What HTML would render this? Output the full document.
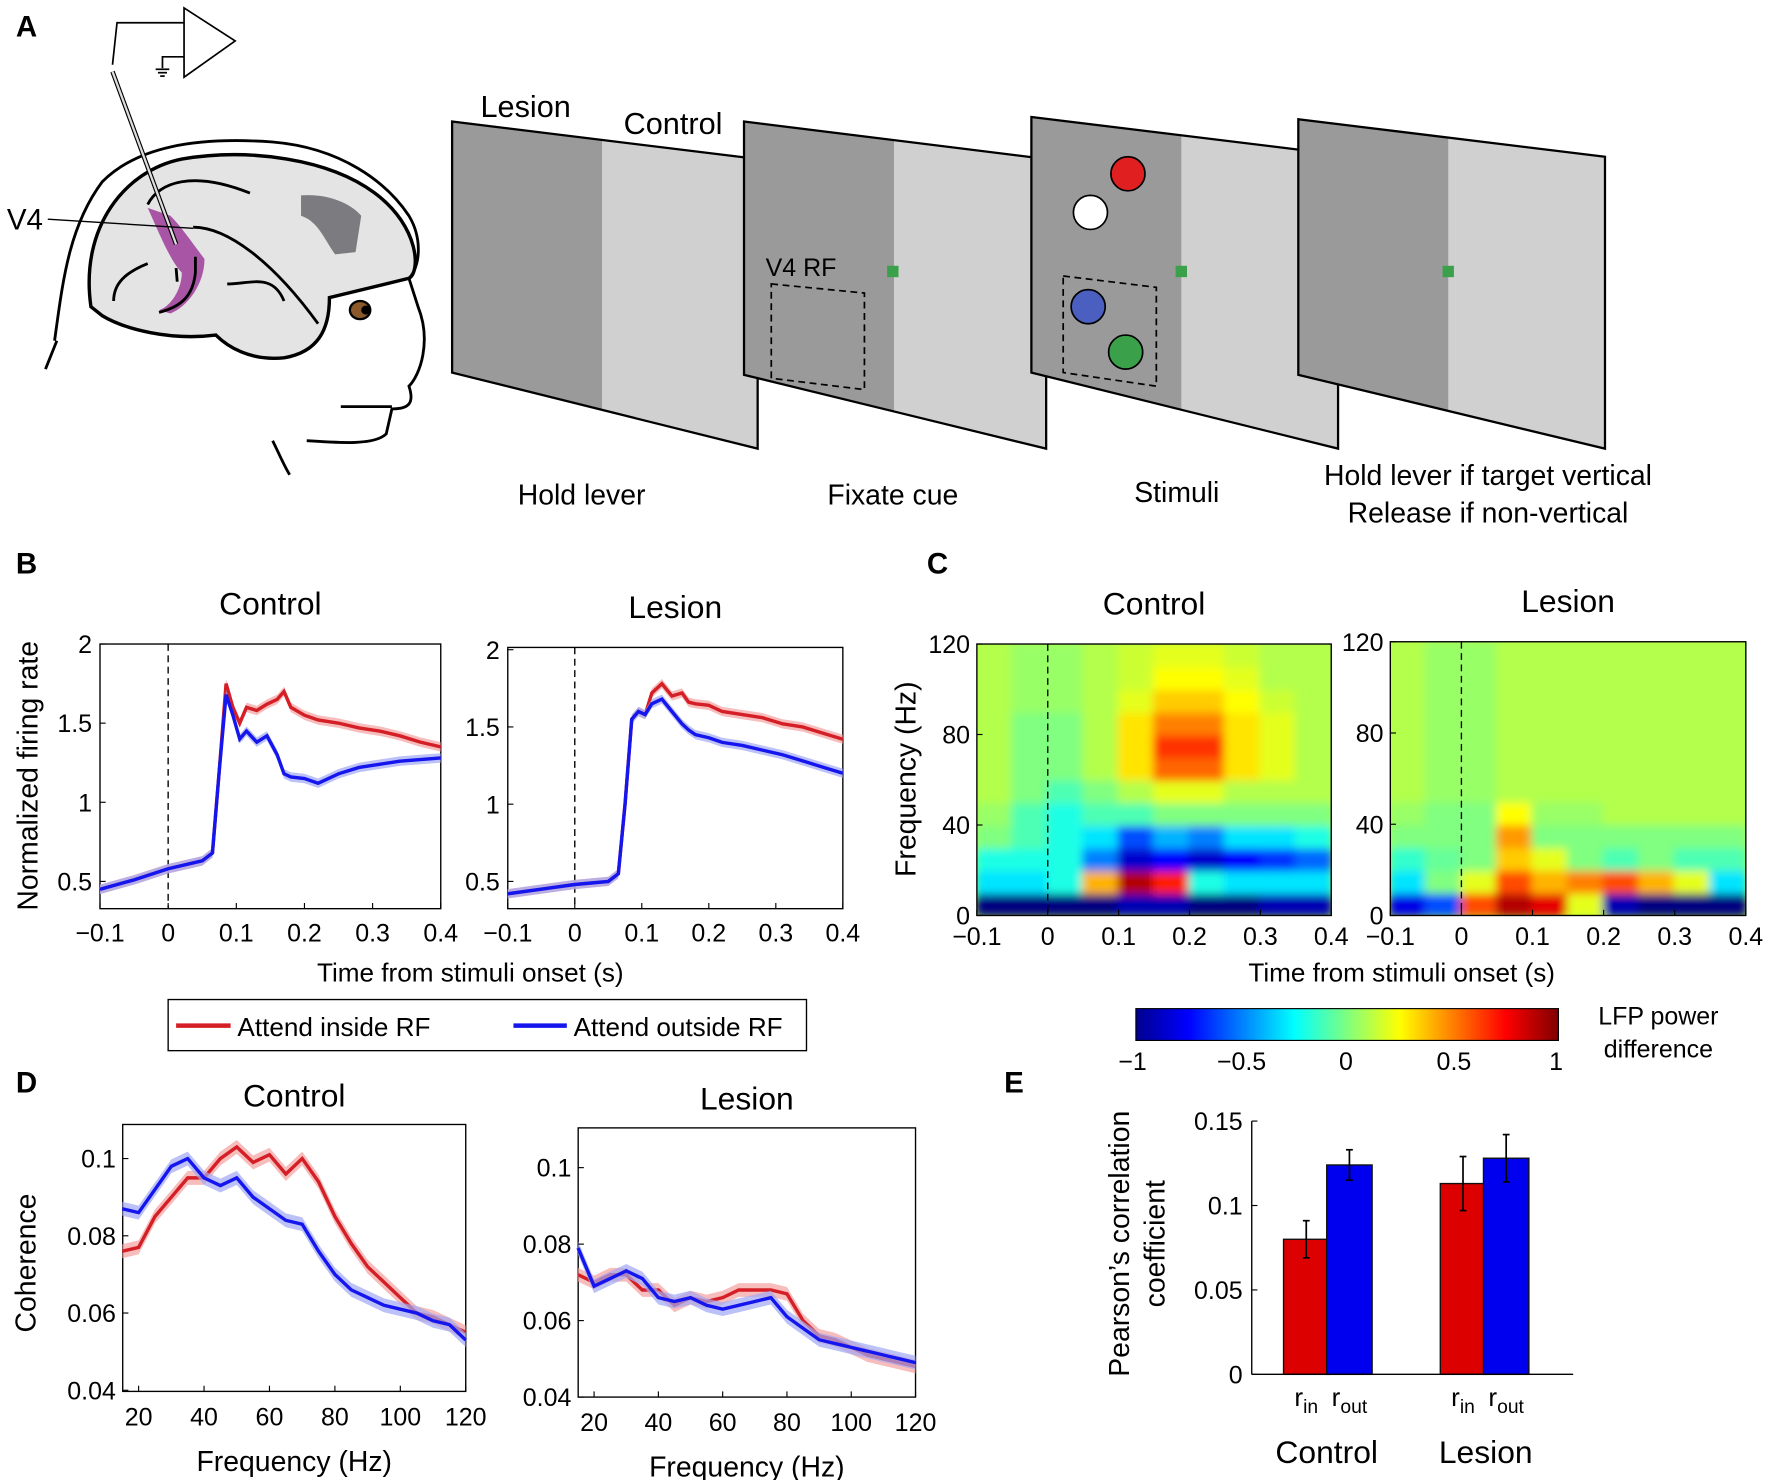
<!DOCTYPE html>
<html><head><meta charset="utf-8"><style>
html,body{margin:0;padding:0;background:#fff;}
svg{display:block;font-family:"Liberation Sans",Arial,sans-serif;}
</style></head><body>
<svg id="fig" width="1772" height="1480" viewBox="0 0 1560 1303" xmlns="http://www.w3.org/2000/svg">
<defs>
<filter id="blur" x="-5%" y="-5%" width="110%" height="110%"><feGaussianBlur stdDeviation="4"/></filter>
<clipPath id="clipC1"><rect x="860" y="567" width="312" height="239"/></clipPath>
<clipPath id="clipC2"><rect x="1224" y="565" width="313" height="241"/></clipPath>
<linearGradient id="jet" x1="0" x2="1" y1="0" y2="0">
<stop offset="0" stop-color="#00008f"/><stop offset="0.125" stop-color="#0000ff"/><stop offset="0.375" stop-color="#00ffff"/><stop offset="0.5" stop-color="#7fff7f"/><stop offset="0.625" stop-color="#ffff00"/><stop offset="0.875" stop-color="#ff0000"/><stop offset="1" stop-color="#7f0000"/>
</linearGradient>
</defs>

<!-- Panel A -->
<g>
<text x="14" y="32" font-size="26" font-weight="bold">A</text>
<g fill="none" stroke="#000" stroke-width="3">
<path d="M80,270 C70,200 110,150 160,140 C220,130 290,140 330,170 C370,200 370,240 360,245 L290,262 C290,290 280,310 250,315 C220,318 200,305 190,295 C150,300 110,290 90,278 Z" fill="#e4e4e4"/>
<path d="M265,172 C290,170 310,180 318,190 L313,222 L295,224 C285,210 280,195 265,190 Z" fill="#7c7c80" stroke="none"/>
<path d="M130,183 C140,205 150,230 160,240 C160,255 150,270 140,273 L150,276 C165,270 180,250 180,228 C170,215 160,200 150,190 Z" fill="#a855a5" stroke="none"/>
<path d="M130,180 C140,160 170,150 220,170 M170,200 C200,200 240,230 280,285 M200,250 C220,250 240,240 250,265 M100,265 C100,250 110,240 130,232 M155,236 L156,248 M172,226 L172,240 C170,260 160,270 140,275" stroke-width="2.5"/>
<path d="M48,300 C55,250 60,200 90,160 C120,130 170,120 240,125 C300,130 340,160 360,190 C372,210 370,235 360,245 L368,270 C380,300 370,330 360,340 C365,355 360,360 345,360 L340,382 C330,392 300,390 270,388" stroke-width="2.5"/>
<path d="M300,358 L345,358" stroke-width="2.5"/>
<path d="M240,388 C245,398 250,410 255,418 M40,325 L50,300" stroke-width="2.5"/>
<ellipse cx="317" cy="273" rx="9" ry="8" fill="#8b5a2b" stroke="#000" stroke-width="2"/>
<circle cx="322" cy="273" r="4" fill="#000" stroke="none"/>
</g>
<g stroke="#000" fill="none">
<line x1="99" y1="63" x2="155" y2="215" stroke-width="4"/>
<line x1="99" y1="63" x2="155" y2="215" stroke="#ddd" stroke-width="2"/>
<polyline points="99,57 103,20 162,20" stroke-width="1.5"/>
<polygon points="162,7 207,36 162,68" fill="#fff" stroke-width="1.5"/>
<polyline points="162,50 143,50 143,60" stroke-width="1.5"/>
<line x1="137" y1="61" x2="149" y2="61" stroke-width="1.5"/><line x1="139" y1="64" x2="147" y2="64" stroke-width="1.5"/><line x1="141" y1="67" x2="145" y2="67" stroke-width="1.5"/>
</g>
<text x="6" y="202" font-size="26">V4</text>
<line x1="42" y1="193" x2="170" y2="201" stroke="#000" stroke-width="1.2"/>

<g>
<polygon points="398,107 667,140 667,395 398,328" fill="#d0d0d0"/>
<polygon points="398,107 530,123 530,361 398,328" fill="#9a9a9a"/>
<polygon points="398,107 667,140 667,395 398,328" fill="none" stroke="#000" stroke-width="2"/>
</g>
<g>
<polygon points="655,107 921,140 921,395 655,330" fill="#d0d0d0"/>
<polygon points="655,107 787,123 787,362 655,330" fill="#9a9a9a"/>
<polygon points="655,107 921,140 921,395 655,330" fill="none" stroke="#000" stroke-width="2"/>
<polygon points="679,250 761,258 761,343 679,333" fill="none" stroke="#000" stroke-dasharray="6,4" stroke-width="1.5"/>
<rect x="781" y="234" width="10" height="10" fill="#3aa04a"/>
</g>
<g>
<polygon points="908,103 1178,136 1178,395 908,328" fill="#d0d0d0"/>
<polygon points="908,103 1040,119 1040,360 908,328" fill="#9a9a9a"/>
<polygon points="908,103 1178,136 1178,395 908,328" fill="none" stroke="#000" stroke-width="2"/>
<polygon points="936,243 1018,253 1018,340 936,328" fill="none" stroke="#000" stroke-dasharray="6,4" stroke-width="1.5"/>
<rect x="1035" y="234" width="10" height="10" fill="#3aa04a"/>
<circle cx="993" cy="153" r="15" fill="#e02020" stroke="#000" stroke-width="1.5"/>
<circle cx="960" cy="187" r="15" fill="#fff" stroke="#000" stroke-width="1.5"/>
<circle cx="958" cy="270" r="15" fill="#4a5fc0" stroke="#000" stroke-width="1.5"/>
<circle cx="991" cy="310" r="15" fill="#3aa04a" stroke="#000" stroke-width="1.5"/>
</g>
<g>
<polygon points="1143,105 1413,138 1413,395 1143,330" fill="#d0d0d0"/>
<polygon points="1143,105 1275,121 1275,362 1143,330" fill="#9a9a9a"/>
<polygon points="1143,105 1413,138 1413,395 1143,330" fill="none" stroke="#000" stroke-width="2"/>
<rect x="1270" y="234" width="10" height="10" fill="#3aa04a"/>
</g>
<text x="423" y="103" font-size="27">Lesion</text>
<text x="549" y="118" font-size="27">Control</text>
<text x="674" y="243" font-size="22">V4 RF</text>
<text x="512" y="444" font-size="25" text-anchor="middle">Hold lever</text>
<text x="786" y="444" font-size="25" text-anchor="middle">Fixate cue</text>
<text x="1036" y="442" font-size="25" text-anchor="middle">Stimuli</text>
<text x="1310" y="427" font-size="25" text-anchor="middle">Hold lever if target vertical</text>
<text x="1310" y="460" font-size="25" text-anchor="middle">Release if non-vertical</text>
</g>

<text x="14" y="505" font-size="26" font-weight="bold">B</text>
<text x="816" y="505" font-size="26" font-weight="bold">C</text>
<text x="14" y="962" font-size="26" font-weight="bold">D</text>
<text x="884" y="962" font-size="26" font-weight="bold">E</text>

<g id="gB"></g>
<g id="gC"></g>
<g id="gD"></g>
<g id="gE"></g>

<g>
<rect x="148" y="880" width="562" height="45" fill="#fff" stroke="#000" stroke-width="1.2"/>
<g><line x1="155" y1="903" x2="203" y2="903" stroke="#d41f26" stroke-width="4"/><text x="209" y="912" font-size="23">Attend inside RF</text></g>
<g><line x1="452" y1="903" x2="499" y2="903" stroke="#1515ee" stroke-width="4"/><text x="505" y="912" font-size="23">Attend outside RF</text></g>
</g>

<g>
<rect x="1000" y="888" width="372" height="28" fill="url(#jet)" stroke="#000" stroke-width="1"/>
<text x="997" y="942" font-size="22" text-anchor="middle">−1</text>
<text x="1093" y="942" font-size="22" text-anchor="middle">−0.5</text>
<text x="1185" y="942" font-size="22" text-anchor="middle">0</text>
<text x="1280" y="942" font-size="22" text-anchor="middle">0.5</text>
<text x="1370" y="942" font-size="22" text-anchor="middle">1</text>
<text x="1460" y="902" font-size="22" text-anchor="middle">LFP power</text>
<text x="1460" y="931" font-size="22" text-anchor="middle">difference</text>
</g>

<script>
// ---------- DATA ----------
const bTimes = [-0.1,-0.05,0,0.05,0.065,0.075,0.085,0.095,0.105,0.115,0.13,0.145,0.16,0.17,0.18,0.2,0.22,0.25,0.28,0.31,0.34,0.37,0.4];
const bCtrlIn  = [0.45,0.51,0.58,0.63,0.68,1.2,1.75,1.6,1.5,1.6,1.58,1.62,1.65,1.7,1.6,1.55,1.52,1.5,1.47,1.45,1.42,1.38,1.35];
const bCtrlOut = [0.45,0.51,0.58,0.63,0.68,1.2,1.68,1.55,1.4,1.45,1.38,1.42,1.3,1.18,1.16,1.15,1.12,1.18,1.22,1.24,1.26,1.27,1.28];
const bLesIn   = [0.42,0.45,0.48,0.5,0.55,1.0,1.55,1.6,1.58,1.72,1.78,1.7,1.72,1.66,1.65,1.64,1.6,1.58,1.56,1.52,1.5,1.46,1.42];
const bLesOut  = [0.42,0.45,0.48,0.5,0.55,1.0,1.55,1.6,1.58,1.65,1.68,1.6,1.52,1.48,1.45,1.43,1.4,1.38,1.35,1.32,1.28,1.24,1.2];
const bXTicks = [-0.1,0,0.1,0.2,0.3,0.4];
const bXTickLabels = ["−0.1","0","0.1","0.2","0.3","0.4"];
const bYTicks = [0.5,1,1.5,2];
const bYTickLabels = ["0.5","1","1.5","2"];

const cFreqs = [5,15,25,35,45,55,65,75,85,95,105,115];
const cTimes = [-0.075,-0.025,0.025,0.075,0.125,0.175,0.225,0.275,0.325,0.375];
const cCtrl = [
 [-1,-1,-1,-1,-0.9,-0.9,-1,-1,-0.9,-0.9],
 [-0.3,-0.3,-0.2,0.4,0.9,0.7,-0.2,-0.3,-0.3,-0.3],
 [-0.2,-0.2,-0.2,-0.5,-0.85,-0.75,-0.85,-0.75,-0.65,-0.55],
 [0,-0.1,-0.2,-0.3,-0.6,-0.4,-0.5,-0.3,-0.3,-0.2],
 [0.05,-0.1,-0.2,-0.1,-0.1,0,0,0,0,0],
 [0.1,0,-0.1,0,0.1,0.2,0.2,0.1,0.1,0.1],
 [0.1,0,0,0.1,0.3,0.55,0.55,0.3,0.2,0.1],
 [0.1,0,0,0.1,0.3,0.65,0.65,0.3,0.2,0.1],
 [0.1,0,0,0.1,0.3,0.5,0.5,0.3,0.2,0.1],
 [0.1,0.05,0.05,0.1,0.2,0.35,0.35,0.25,0.15,0.1],
 [0.1,0.05,0.05,0.1,0.15,0.25,0.25,0.2,0.1,0.1],
 [0.1,0.05,0.05,0.1,0.15,0.2,0.2,0.15,0.1,0.1]];
const cLes = [
 [-0.8,-0.6,0.6,0.9,0.8,0.2,-0.9,-1,-1,-1],
 [-0.3,0,0.2,0.6,0.4,0.5,0.6,0.4,0.2,-0.3],
 [-0.15,-0.05,0,0.35,0.2,0,-0.1,0,-0.1,-0.1],
 [0,0,0,0.45,0,0,0,0,0,0],
 [0.05,0,0,0.25,0.05,0.05,0.1,0.1,0.1,0.1],
 [0.1,0.05,0.05,0.1,0.1,0.1,0.1,0.1,0.1,0.1],
 [0.1,0.05,0.05,0.1,0.1,0.1,0.1,0.1,0.1,0.1],
 [0.1,0.05,0.05,0.1,0.1,0.1,0.1,0.1,0.1,0.1],
 [0.1,0.05,0.05,0.1,0.1,0.1,0.1,0.1,0.1,0.1],
 [0.1,0.05,0.05,0.1,0.1,0.1,0.1,0.1,0.1,0.1],
 [0.1,0.05,0.05,0.1,0.1,0.1,0.1,0.1,0.1,0.1],
 [0.1,0.05,0.05,0.1,0.1,0.1,0.1,0.1,0.1,0.1]];
const cYTicks = [0,40,80,120];

const dFreqs = [15,20,25,30,35,40,45,50,55,60,65,70,75,80,85,90,95,100,105,110,115,120];
const dCtrlIn  = [0.076,0.077,0.085,0.09,0.095,0.095,0.1,0.103,0.099,0.101,0.096,0.1,0.094,0.085,0.078,0.072,0.068,0.064,0.06,0.059,0.057,0.055];
const dCtrlOut = [0.087,0.086,0.092,0.098,0.1,0.095,0.093,0.095,0.09,0.087,0.084,0.083,0.076,0.07,0.066,0.064,0.062,0.061,0.06,0.058,0.057,0.053];
const dLesIn   = [0.072,0.07,0.072,0.072,0.068,0.068,0.064,0.066,0.065,0.066,0.068,0.068,0.068,0.067,0.06,0.056,0.055,0.053,0.051,0.05,0.049,0.048];
const dLesOut  = [0.079,0.069,0.071,0.073,0.071,0.066,0.065,0.066,0.064,0.063,0.064,0.065,0.066,0.061,0.058,0.055,0.054,0.053,0.052,0.051,0.05,0.049];
const dXTicks = [20,40,60,80,100,120];
const dYTicks = [0.04,0.06,0.08,0.1];

const eGroups = ["Control","Lesion"];
const eValues = [0.080,0.124,0.113,0.128];
const eErrors = [0.011,0.009,0.016,0.014];
const eYTicks = [0,0.05,0.1,0.15];

// ---------- helpers ----------
const NS="http://www.w3.org/2000/svg";
function mk(tag,attrs,parent){const e=document.createElementNS(NS,tag);for(const k in attrs)e.setAttribute(k,attrs[k]);parent.appendChild(e);return e;}
function txt(s,x,y,size,anchor,parent){const t=mk('text',{x:x,y:y,'font-size':size,'text-anchor':anchor||'middle'},parent);t.textContent=s;return t;}
function lin(d0,d1,r0,r1){return v=>r0+(v-d0)/(d1-d0)*(r1-r0);}
function jet(v){let t=(v+1)/2;t=Math.max(0,Math.min(1,t));
 const r=Math.max(0,Math.min(1,1.5-Math.abs(4*t-3))),g=Math.max(0,Math.min(1,1.5-Math.abs(4*t-2))),b=Math.max(0,Math.min(1,1.5-Math.abs(4*t-1)));
 return `rgb(${Math.round(r*255)},${Math.round(g*255)},${Math.round(b*255)})`;}

// ---------- Panel B ----------
const gB=document.getElementById('gB');
function panelB(ax,title,inV,outV,name){
 const g=mk('g',{},gB);
 
 
 const sx=lin(-0.1,0.4,ax.x0,ax.x1), sy=lin(0.5,2,ax.y05,ax.y2);
 mk('rect',{x:ax.x0,y:ax.top,width:ax.x1-ax.x0,height:ax.bot-ax.top,fill:'#fff',stroke:'#000','stroke-width':1.2},g);
 mk('line',{x1:sx(0),x2:sx(0),y1:ax.top,y2:ax.bot,stroke:'#000','stroke-dasharray':'6,4','stroke-width':1.2},g);
 [[inV,'#d41f26','#f4a0a0','line-attend-inside'],[outV,'#1515ee','#a0a8f4','line-attend-outside']].forEach(s=>{
  const up=bTimes.map((t,i)=>sx(t)+','+sy(s[0][i]+0.03)).join(' ');
  const dn=bTimes.map((t,i)=>sx(t)+','+sy(s[0][i]-0.03)).reverse().join(' ');
  const band=mk('polygon',{points:up+' '+dn,fill:s[2],opacity:0.7},g);
  
  
  const p=mk('polyline',{points:bTimes.map((t,i)=>sx(t)+','+sy(s[0][i])).join(' '),fill:'none',stroke:s[1],'stroke-width':3},g);
  
  
 });
 bXTicks.forEach((v,i)=>{mk('line',{x1:sx(v),x2:sx(v),y1:ax.bot,y2:ax.bot-5,stroke:'#000'},g);txt(bXTickLabels[i],sx(v),ax.bot+29,22,'middle',g);});
 bYTicks.forEach((v,i)=>{mk('line',{x1:ax.x0,x2:ax.x0+5,y1:sy(v),y2:sy(v),stroke:'#000'},g);txt(bYTickLabels[i],ax.x0-7,sy(v)+8,22,'end',g);});
 txt(title,(ax.x0+ax.x1)/2,ax.top-26,28,'middle',g);
}
panelB({x0:88,x1:388,top:567,bot:800,y05:776,y2:567},'Control',bCtrlIn,bCtrlOut,'chart-b-control');
panelB({x0:447,x1:742,top:570,bot:800,y05:776,y2:572},'Lesion',bLesIn,bLesOut,'chart-b-lesion');
{const t=txt('Normalized firing rate',0,0,25,'middle',gB);t.setAttribute('transform','translate(33,683) rotate(-90)');}
{const t=txt('Time from stimuli onset (s)',414,864,23,'middle',gB);}

// ---------- Panel C ----------
const gC=document.getElementById('gC');
function panelC(ax,title,grid,clip,name){
 const g=mk('g',{},gC);
 
 
 const sx=lin(-0.1,0.4,ax.x0,ax.x1), sy=lin(0,120,ax.bot,ax.top);
 const hm=mk('g',{'clip-path':'url(#'+clip+')'},g);
 mk('rect',{x:ax.x0,y:ax.top,width:ax.x1-ax.x0,height:ax.bot-ax.top,fill:jet(0.1)},hm);
 const inner=mk('g',{filter:'url(#blur)'},hm);
 const dt=0.05, df=10;
 grid.forEach((row,ri)=>row.forEach((v,ci)=>{
  const x=sx(cTimes[ci]-dt/2), y=sy(cFreqs[ri]+df/2);
  const c=mk('rect',{x:x-1,y:y-1,width:sx(dt)-sx(0)+2,height:sy(0)-sy(df)+2,fill:jet(v)},inner);
  
  
 }));
 mk('rect',{x:ax.x0,y:ax.top,width:ax.x1-ax.x0,height:ax.bot-ax.top,fill:'none',stroke:'#000','stroke-width':1.2},g);
 mk('line',{x1:sx(0),x2:sx(0),y1:ax.top,y2:ax.bot,stroke:'#000','stroke-dasharray':'6,4','stroke-width':1.2},g);
 bXTicks.forEach((v,i)=>{mk('line',{x1:sx(v),x2:sx(v),y1:ax.bot,y2:ax.bot-5,stroke:'#000'},g);txt(bXTickLabels[i],sx(v),ax.bot+26,22,'middle',g);});
 cYTicks.forEach(v=>{mk('line',{x1:ax.x0,x2:ax.x0+5,y1:sy(v),y2:sy(v),stroke:'#000'},g);txt(String(v),ax.x0-6,sy(v)+8,22,'end',g);});
 txt(title,(ax.x0+ax.x1)/2,ax.top-26,28,'middle',g);
}
panelC({x0:860,x1:1172,top:567,bot:806},'Control',cCtrl,'clipC1','heatmap-control');
panelC({x0:1224,x1:1537,top:565,bot:806},'Lesion',cLes,'clipC2','heatmap-lesion');
{const t=txt('Frequency (Hz)',0,0,25,'middle',gC);t.setAttribute('transform','translate(806,686) rotate(-90)');}
{const t=txt('Time from stimuli onset (s)',1234,864,23,'middle',gC);}

// ---------- Panel D ----------
const gD=document.getElementById('gD');
function panelD(ax,title,inV,outV,name){
 const g=mk('g',{},gD);
 
 
 const sx=lin(20,120,ax.x20,ax.x120), sy=lin(0.04,0.1,ax.y04,ax.y1);
 mk('rect',{x:ax.x0,y:ax.top,width:ax.x1-ax.x0,height:ax.bot-ax.top,fill:'#fff',stroke:'#000','stroke-width':1.2},g);
 [[inV,'#d41f26','#f4a0a0','line-attend-inside'],[outV,'#1515ee','#a0a8f4','line-attend-outside']].forEach(s=>{
  const up=dFreqs.map((f,i)=>sx(f)+','+sy(s[0][i]+0.0018)).join(' ');
  const dn=dFreqs.map((f,i)=>sx(f)+','+sy(s[0][i]-0.0018)).reverse().join(' ');
  const band=mk('polygon',{points:up+' '+dn,fill:s[2],opacity:0.7},g);
  
  
  const p=mk('polyline',{points:dFreqs.map((f,i)=>sx(f)+','+sy(s[0][i])).join(' '),fill:'none',stroke:s[1],'stroke-width':3},g);
  
  
 });
 dXTicks.forEach(v=>{mk('line',{x1:sx(v),x2:sx(v),y1:ax.bot,y2:ax.bot-5,stroke:'#000'},g);txt(String(v),sx(v),ax.bot+30,22,'middle',g);});
 dYTicks.forEach(v=>{mk('line',{x1:ax.x0,x2:ax.x0+5,y1:sy(v),y2:sy(v),stroke:'#000'},g);txt(String(v),ax.x0-6,sy(v)+8,22,'end',g);});
 txt(title,(ax.x0+ax.x1)/2,ax.top-16,28,'middle',g);
 txt('Frequency (Hz)',(ax.x0+ax.x1)/2,ax.bot+70,25,'middle',g);
}
panelD({x0:108,x1:410,top:990,bot:1225,x20:122,x120:410,y04:1224,y1:1020},'Control',dCtrlIn,dCtrlOut,'chart-d-control');
panelD({x0:509,x1:806,top:993,bot:1230,x20:523,x120:806,y04:1230,y1:1028},'Lesion',dLesIn,dLesOut,'chart-d-lesion');
{const t=txt('Coherence',0,0,25,'middle',gD);t.setAttribute('transform','translate(31,1112) rotate(-90)');}

// ---------- Panel E ----------
const gE=document.getElementById('gE');
{
 const ax={x0:1102,x1:1385,y0:1210,y15:987};
 const sy=lin(0,0.15,ax.y0,ax.y15);
 const barX=[1130,1168,1268,1306], bw=40;
 const colors=['#dd0000','#0000ee','#dd0000','#0000ee'];
 eValues.forEach((v,i)=>{
  const b=mk('rect',{x:barX[i],y:sy(v),width:bw,height:sy(0)-sy(v),fill:colors[i],stroke:'#111','stroke-width':1.2},gE);
  
  
  const cx=barX[i]+bw/2;
  mk('line',{x1:cx,x2:cx,y1:sy(v-eErrors[i]),y2:sy(v+eErrors[i]),stroke:'#000','stroke-width':1.5},gE);
  mk('line',{x1:cx-3,x2:cx+3,y1:sy(v-eErrors[i]),y2:sy(v-eErrors[i]),stroke:'#000','stroke-width':1.5},gE);
  mk('line',{x1:cx-3,x2:cx+3,y1:sy(v+eErrors[i]),y2:sy(v+eErrors[i]),stroke:'#000','stroke-width':1.5},gE);
  const t=mk('text',{x:cx,y:1238,'font-size':23,'text-anchor':'middle'},gE);
  const a=mk('tspan',{},t);a.textContent='r';
  const s=mk('tspan',{dy:6,'font-size':17},t);s.textContent=(i%2?'out':'in');
 });
 mk('line',{x1:ax.x0,x2:ax.x0,y1:ax.y15,y2:ax.y0,stroke:'#000','stroke-width':1.2},gE);
 mk('line',{x1:ax.x0,x2:ax.x1,y1:ax.y0,y2:ax.y0,stroke:'#000','stroke-width':1.2},gE);
 eYTicks.forEach(v=>{mk('line',{x1:ax.x0,x2:ax.x0+5,y1:sy(v),y2:sy(v),stroke:'#000'},gE);txt(String(v),ax.x0-8,sy(v)+8,22,'end',gE);});
 txt(eGroups[0],1168,1288,28,'middle',gE);
 txt(eGroups[1],1308,1288,28,'middle',gE);
 const t1=txt("Pearson’s correlation",0,0,25,'middle',gE);t1.setAttribute('transform','translate(994,1095) rotate(-90)');
 
 
 const t2=txt('coefficient',0,0,25,'middle',gE);t2.setAttribute('transform','translate(1025,1095) rotate(-90)');
}
</script>
</svg>
</body></html>
